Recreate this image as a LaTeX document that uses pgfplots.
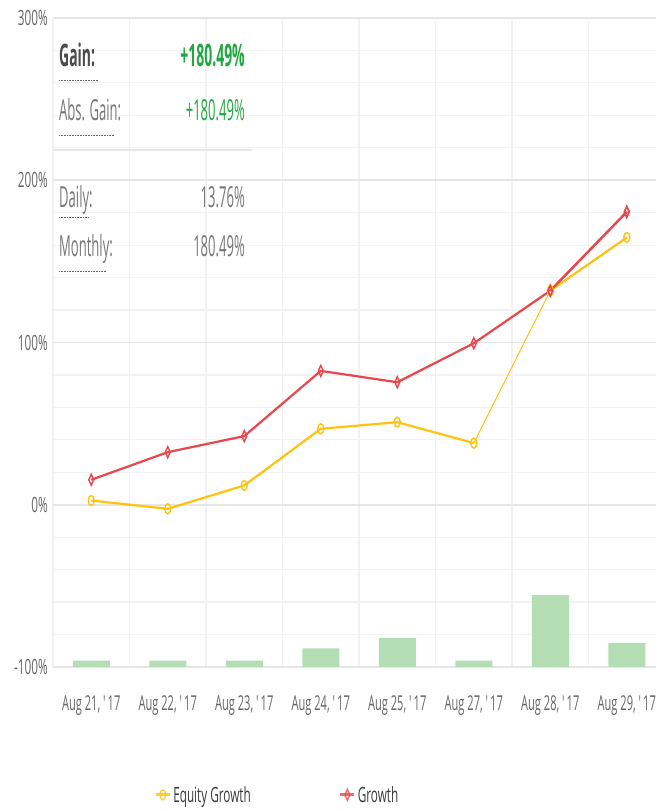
\documentclass[border=0pt]{standalone}
\usepackage{fontspec}
\setmainfont{Open Sans}[FakeStretch=0.56]
\newfontfamily\infofont{Open Sans}[FakeStretch=0.45]
\newfontfamily\tickfont{Open Sans}[FakeStretch=0.54]
\usepackage{pgfplots}
\pgfplotsset{compat=1.18}
\usepackage{pgfplotstable}

\definecolor{eqy}{HTML}{FFC20E}
\definecolor{grw}{HTML}{E8474C}
\definecolor{barg}{HTML}{B3DEB4}
\definecolor{gridc}{HTML}{E6E6E6}
\definecolor{gridm}{HTML}{F2F2F2}
\definecolor{gridv}{HTML}{ECECEC}
\definecolor{basec}{HTML}{C8D4E3}
\definecolor{tickc}{HTML}{666666}
\definecolor{lblc}{HTML}{777777}
\definecolor{legc}{HTML}{3A3A3A}
\definecolor{gainc}{HTML}{1FA83F}

\pgfplotstableread{
x eq gr
0 2.6 15.4
1 -2.5 32.4
2 11.9 42.3
3 46.8 82.5
4 50.9 75.5
5 38.0 99.5
6 131.9 131.9
7 164.7 180.5
}\growthdata

\pgfplotstableread{
x v
0 3.9
1 3.9
2 3.9
3 11.5
4 18.0
5 3.9
6 44.3
7 14.8
}\bardata

\pgfplotsset{
  base/.style={scale only axis, width=603pt, height=649pt,
    at={(53pt,144pt)}, anchor=south west, xmin=-0.5, xmax=7.382},
  eqmark/.style={mark=o, mark size=5pt,
    mark options={fill=white, solid, line width=1.4pt, xscale=0.6}},
  grmark/.style={mark=diamond, mark size=5.5pt,
    mark options={fill=white, solid, line width=1.4pt, xscale=0.6}},
}

\begin{document}
\begin{tikzpicture}
\useasboundingbox (0,0) rectangle (656pt,811pt);

% grid and tick labels
\begin{axis}[base,
  ymin=-100, ymax=300,
  ytick={0,100,200,300},
  extra y ticks={-100},
  extra y tick style={grid style={basec, line width=2pt}},
  minor ytick={-80,-60,...,280},
  yticklabel={\pgfmathprintnumber{\tick}\%},
  xtick={0,...,7},
  xticklabels={{Aug 21, \textquotesingle17},{Aug 22, \textquotesingle17},{Aug 23, \textquotesingle17},{Aug 24, \textquotesingle17},{Aug 25, \textquotesingle17},{Aug 27, \textquotesingle17},{Aug 28, \textquotesingle17},{Aug 29, \textquotesingle17}},
  minor xtick={-0.5,0.5,...,6.5},
  xmajorgrids=false, xminorgrids=true,
  ymajorgrids=true, yminorgrids=true,
  major grid style={gridc, line width=1.6pt},
  minor grid style={gridm, line width=1.2pt},
  axis line style={draw=none},
  major tick length=0pt, minor tick length=0pt,
  tick label style={text=tickc, font=\fontsize{21}{24}\selectfont},
  /pgf/number format/assume math mode=true,
  yticklabel style={inner sep=0pt, xshift=-5pt},
  xticklabel style={anchor=base, inner sep=0pt, yshift=-44pt, font=\tickfont\fontsize{20.5}{24}\selectfont},
]
\addplot[draw=none, forget plot] table[x=x, y=eq] {\growthdata};
\end{axis}

% bars
\begin{axis}[base, ymin=0, ymax=400, hide axis]
\addplot[ybar, bar width=37pt, bar shift=0pt, fill=barg, draw=none] table[x=x, y=v] {\bardata};
\end{axis}

% lines
\begin{axis}[base, ymin=-100, ymax=300, hide axis,
  legend style={at={(0.372,-0.197)}, anchor=center, draw=none, fill=none,
    font=\fontsize{21}{24}\selectfont, text=legc,
    /tikz/every even column/.append style={column sep=86pt}},
  legend columns=2,
  legend image code/.code={\draw[mark repeat=2, mark phase=2, #1, line width=3pt, opacity=0.8] plot coordinates {(0pt,0pt) (7pt,0pt) (14pt,0pt)};},
]
\addplot[eqy, line width=2.2pt, eqmark,
  restrict x to domain=0:5] table[x=x, y=eq] {\growthdata};
\addlegendentry{Equity Growth}
\addplot[grw, line width=2.2pt, grmark] table[x=x, y=gr] {\growthdata};
\addlegendentry{Growth}
\addplot[eqy, line width=1pt, forget plot, restrict x to domain=5:6] table[x=x, y=eq] {\growthdata};
\addplot[eqy, line width=2.2pt, eqmark, forget plot,
  restrict x to domain=6:7] table[x=x, y=eq] {\growthdata};
\addplot[grw, line width=2.2pt, grmark, forget plot,
  restrict x to domain=6:7] table[x=x, y=gr] {\growthdata};
\end{axis}

% info box
\draw[gridc, line width=2pt] (53pt,661pt) -- (252pt,661pt);
\node[anchor=base west, inner sep=0pt, text=black!70, font=\infofont\bfseries\fontsize{31}{31}\selectfont] at (59pt,744pt) {Gain:};
\node[anchor=base east, inner sep=0pt, text=gainc, font=\infofont\bfseries\fontsize{31}{31}\selectfont] at (245pt,744pt) {+180.49\%};
\node[anchor=base west, inner sep=0pt, text=lblc, font=\infofont\fontsize{29}{29}\selectfont] at (59pt,690pt) {Abs. Gain:};
\node[anchor=base east, inner sep=0pt, text=gainc, font=\infofont\fontsize{29}{29}\selectfont] at (245pt,690pt) {+180.49\%};
\node[anchor=base west, inner sep=0pt, text=lblc, font=\infofont\fontsize{29}{29}\selectfont] at (59pt,603pt) {Daily:};
\node[anchor=base east, inner sep=0pt, text=lblc, font=\infofont\fontsize{29}{29}\selectfont] at (245pt,603pt) {13.76\%};
\node[anchor=base west, inner sep=0pt, text=lblc, font=\infofont\fontsize{29}{29}\selectfont] at (59pt,554pt) {Monthly:};
\node[anchor=base east, inner sep=0pt, text=lblc, font=\infofont\fontsize{29}{29}\selectfont] at (245pt,554pt) {180.49\%};
\draw[black!60, line width=1pt, dash pattern=on 0.8pt off 0.8pt] (59pt,730pt) -- (98pt,730pt);
\draw[black!60, line width=1pt, dash pattern=on 0.8pt off 0.8pt] (59pt,675pt) -- (114pt,675pt);
\draw[black!60, line width=1pt, dash pattern=on 0.8pt off 0.8pt] (59pt,593pt) -- (89pt,593pt);
\draw[black!60, line width=1pt, dash pattern=on 0.8pt off 0.8pt] (59pt,539pt) -- (106pt,539pt);
\end{tikzpicture}
\end{document}
